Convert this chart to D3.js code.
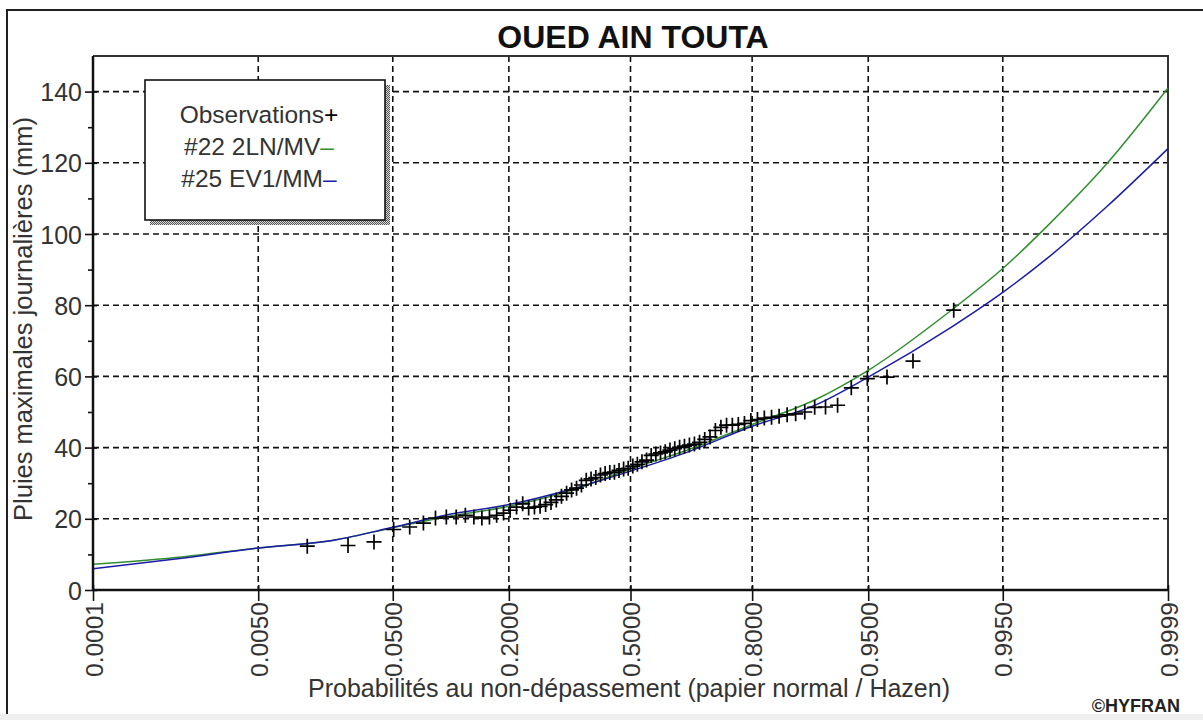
<!DOCTYPE html>
<html>
<head>
<meta charset="utf-8">
<script src="https://cdn.jsdelivr.net/npm/d3@7"></script>
<style>
  body { margin: 0; background: #fff; }
  svg { display: block; font-family: "Liberation Sans", Arial, sans-serif; }
</style>
</head>
<body>
<div id="chart"></div>
<script>
// observations, sorted (mm)
var obsValues = [12.3, 12.5, 13.5, 17.0, 17.7, 18.8, 20.2, 20.5, 20.5, 21.0,
  20.5, 20.2, 20.5, 21.0, 21.6, 22.4, 23.3, 24.2, 23.0, 23.3,
  23.5, 24.0, 24.6, 25.3, 26.3, 27.2, 28.1, 28.6, 29.5, 30.8,
  31.2, 31.6, 32.3, 32.7, 33.0, 33.1, 33.6, 34.0, 34.2, 34.8,
  35.3, 36.0, 36.5, 37.8, 38.2, 38.5, 38.8, 39.3, 39.7, 40.1,
  40.4, 40.7, 41.0, 41.5, 42.3, 43.0, 44.8, 45.7, 46.3, 46.3,
  46.5, 46.8, 47.6, 47.9, 48.3, 48.5, 48.8, 49.2, 49.5, 50.0,
  51.3, 51.4, 51.9, 56.8, 59.4, 59.8, 64.3, 78.6];

// fitted quantiles
var curveProbs = [0.0001, 0.001, 0.005, 0.02, 0.05, 0.1, 0.2, 0.35, 0.5, 0.65, 0.8, 0.9, 0.95, 0.987, 0.995, 0.998, 0.9995, 0.9999];
var green2LN = [7.2, 9.35, 11.8, 14.0, 17.5, 20.5, 23.5, 28.3, 34.0, 39.2, 46.5, 53.5, 61.7, 78.8, 90.3, 102, 119.5, 141];
var blueEV1 = [6.0, 9.0, 11.8, 14.0, 17.6, 21.0, 24.0, 28.6, 33.4, 38.6, 46.0, 52.0, 59.8, 74.0, 83.6, 93.0, 107.5, 124];

var xTickProbs = [0.0001, 0.005, 0.05, 0.2, 0.5, 0.8, 0.95, 0.995, 0.9999];
var xTickLabels = ['0.0001', '0.0050', '0.0500', '0.2000', '0.5000', '0.8000', '0.9500', '0.9950', '0.9999'];
var yTicks = [0, 20, 40, 60, 80, 100, 120, 140];
var yMinorTicks = [10, 30, 50, 70, 90, 110, 130];

var legendLabels = ['Observations', '#22 2LN/MV', '#25 EV1/MM'];
var legendMarks = ['+', '\u2013', '\u2013'];

// inverse normal cdf (Acklam), used for the normal probability paper
function qnorm(p) {
  var a = [-3.969683028665376e+01, 2.209460984245205e+02, -2.759285104469687e+02, 1.383577518672690e+02, -3.066479806614716e+01, 2.506628277459239e+00];
  var b = [-5.447609879822406e+01, 1.615858368580409e+02, -1.556989798598866e+02, 6.680131188771972e+01, -1.328068155288572e+01];
  var c = [-7.784894002430293e-03, -3.223964580411365e-01, -2.400758277161838e+00, -2.549732539343734e+00, 4.374664141464968e+00, 2.938163982698783e+00];
  var d = [7.784695709041462e-03, 3.224671290700398e-01, 2.445134137142996e+00, 3.754408661907416e+00];
  var q, r;
  if (p < 0.02425) {
    q = Math.sqrt(-2 * Math.log(p));
    return (((((c[0]*q+c[1])*q+c[2])*q+c[3])*q+c[4])*q+c[5]) / ((((d[0]*q+d[1])*q+d[2])*q+d[3])*q+1);
  }
  if (p > 1 - 0.02425) {
    q = Math.sqrt(-2 * Math.log(1 - p));
    return -(((((c[0]*q+c[1])*q+c[2])*q+c[3])*q+c[4])*q+c[5]) / ((((d[0]*q+d[1])*q+d[2])*q+d[3])*q+1);
  }
  q = p - 0.5; r = q * q;
  return (((((a[0]*r+a[1])*r+a[2])*r+a[3])*r+a[4])*r+a[5])*q / (((((b[0]*r+b[1])*r+b[2])*r+b[3])*r+b[4])*r+1);
}

var W = 1203, H = 720;
var mL = 93, mR = 1168, mT = 56, mB = 590;

var svg = d3.select('#chart').append('svg')
  .attr('width', W)
  .attr('height', H);

var defs = svg.append('defs');
var pat = defs.append('pattern')
  .attr('id', 'hatch')
  .attr('width', 2).attr('height', 2)
  .attr('patternUnits', 'userSpaceOnUse');
pat.append('rect').attr('width', 2).attr('height', 2).attr('fill', '#d8d8d8');
pat.append('rect').attr('width', 1).attr('height', 1).attr('fill', '#555');
pat.append('rect').attr('x', 1).attr('y', 1).attr('width', 1).attr('height', 1).attr('fill', '#555');

// window frame + bottom strip
svg.append('rect').attr('x', 0).attr('y', 714).attr('width', W).attr('height', 6).attr('fill', '#efefef');
svg.append('path')
  .attr('d', 'M7,714V10H' + W)
  .attr('fill', 'none').attr('stroke', '#222').attr('stroke-width', 2);

var x = d3.scaleLinear()
  .domain([qnorm(0.0001), qnorm(0.9999)])
  .range([mL, mR]);
var y = d3.scaleLinear()
  .domain([0, 150])
  .range([mB, mT]);
function px(p) { return x(qnorm(p)); }

// grid
var grid = svg.append('g')
  .attr('stroke', '#111')
  .attr('stroke-width', 1.6)
  .attr('stroke-dasharray', '6,4');
grid.selectAll('.hg').data(yTicks.slice(1)).enter().append('line')
  .attr('x1', mL).attr('x2', mR)
  .attr('y1', function(d) { return y(d); })
  .attr('y2', function(d) { return y(d); });
grid.selectAll('.vg').data(xTickProbs.slice(1, -1)).enter().append('line')
  .attr('y1', mT).attr('y2', mB)
  .attr('x1', function(d) { return px(d); })
  .attr('x2', function(d) { return px(d); });

// plot frame (top / right)
svg.append('path')
  .attr('d', 'M' + mL + ',' + mT + 'H' + mR + 'V' + mB)
  .attr('fill', 'none').attr('stroke', '#333').attr('stroke-width', 2);

// curves
var line = d3.line()
  .x(function(d) { return px(d[0]); })
  .y(function(d) { return y(d[1]); })
  .curve(d3.curveMonotoneX);

svg.append('path')
  .datum(d3.zip(curveProbs, green2LN))
  .attr('d', line)
  .attr('fill', 'none').attr('stroke', '#2f8f2f').attr('stroke-width', 1.5);
svg.append('path')
  .datum(d3.zip(curveProbs, blueEV1))
  .attr('d', line)
  .attr('fill', 'none').attr('stroke', '#1c1ca8').attr('stroke-width', 1.5);

// observations, Weibull plotting positions i/(n+1)
var n = obsValues.length;
svg.append('g').selectAll('path').data(obsValues).enter().append('path')
  .attr('d', function(d, i) {
    var cx = px((i + 1) / (n + 1)), cy = y(d);
    return 'M' + (cx - 7.5) + ',' + cy + 'H' + (cx + 7.5) + 'M' + cx + ',' + (cy - 7.5) + 'V' + (cy + 7.5);
  })
  .attr('stroke', '#000').attr('stroke-width', 1.7).attr('fill', 'none');

// axes
var yAxis = svg.append('g')
  .attr('transform', 'translate(' + mL + ',0)')
  .call(d3.axisLeft(y).tickValues(yTicks).tickSize(8).tickPadding(4));
yAxis.select('.domain').attr('stroke', '#111').attr('stroke-width', 2.5)
  .attr('d', 'M0,' + mT + 'V' + mB);
yAxis.selectAll('.tick line').attr('stroke', '#111').attr('stroke-width', 1.6).attr('x2', -8).attr('x1', 4);
yAxis.selectAll('.tick text')
  .attr('font-size', 25).attr('fill', '#333')
  .attr('font-family', '"Liberation Sans", Arial, sans-serif')
  .attr('x', -11).attr('dy', '0.36em');

var yMinor = svg.append('g')
  .attr('transform', 'translate(' + mL + ',0)')
  .call(d3.axisLeft(y).tickValues(yMinorTicks).tickSize(5).tickFormat(''));
yMinor.select('.domain').remove();
yMinor.selectAll('.tick line').attr('stroke', '#111').attr('stroke-width', 1.6);

var xAxis = svg.append('g')
  .attr('transform', 'translate(0,' + mB + ')')
  .call(d3.axisBottom(x)
    .tickValues(xTickProbs.map(qnorm))
    .tickFormat(function(d, i) { return xTickLabels[i]; })
    .tickSize(11));
xAxis.select('.domain').attr('stroke', '#111').attr('stroke-width', 2.5)
  .attr('d', 'M' + mL + ',0H' + mR);
xAxis.selectAll('.tick line').attr('stroke', '#111').attr('stroke-width', 1.6).attr('y1', -5);
xAxis.selectAll('.tick text')
  .attr('font-size', 24.5).attr('fill', '#333')
  .attr('font-family', '"Liberation Sans", Arial, sans-serif')
  .attr('text-anchor', 'end')
  .attr('y', 0).attr('dy', 0)
  .attr('transform', 'translate(9,12) rotate(-90)');

// title and axis titles
svg.append('text')
  .attr('x', 633).attr('y', 48)
  .attr('text-anchor', 'middle')
  .attr('font-size', 32).attr('font-weight', 'bold').attr('fill', '#111')
  .text('OUED AIN TOUTA');

svg.append('text')
  .attr('transform', 'translate(32,319) rotate(-90)')
  .attr('text-anchor', 'middle')
  .attr('font-size', 25.5).attr('fill', '#333')
  .text('Pluies maximales journalières (mm)');

svg.append('text')
  .attr('x', 629).attr('y', 697)
  .attr('text-anchor', 'middle')
  .attr('font-size', 25).attr('fill', '#333')
  .text('Probabilités au non-dépassement (papier normal / Hazen)');

svg.append('text')
  .attr('x', 1180).attr('y', 712)
  .attr('text-anchor', 'end')
  .attr('font-size', 18).attr('font-weight', 'bold').attr('fill', '#222')
  .text('\u00A9HYFRAN');

// legend
var lg = svg.append('g');
lg.append('rect').attr('x', 385).attr('y', 85).attr('width', 5).attr('height', 140).attr('fill', 'url(#hatch)');
lg.append('rect').attr('x', 150).attr('y', 220).attr('width', 240).attr('height', 5).attr('fill', 'url(#hatch)');
lg.append('rect')
  .attr('x', 145).attr('y', 80).attr('width', 240).attr('height', 140)
  .attr('fill', '#fff').attr('stroke', '#111').attr('stroke-width', 1.6);
var legendColors = ['#000', '#2f8f2f', '#1c1ca8'];
var lt = lg.selectAll('text').data(legendLabels).enter().append('text')
  .attr('x', 259)
  .attr('y', function(d, i) { return 123 + i * 32; })
  .attr('text-anchor', 'middle')
  .attr('font-size', 24.5).attr('fill', '#333');
lt.append('tspan').text(function(d) { return d; });
lt.append('tspan')
  .attr('fill', function(d, i) { return legendColors[i]; })
  .text(function(d, i) { return legendMarks[i]; });
</script>
</body>
</html>
